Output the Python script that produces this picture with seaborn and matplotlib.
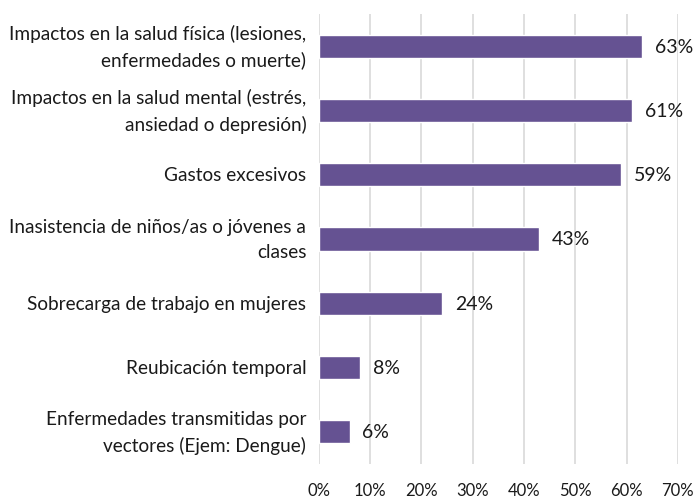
import matplotlib
matplotlib.use("Agg")
import matplotlib.pyplot as plt
import seaborn as sns
import pandas as pd
from matplotlib.ticker import FuncFormatter

# Data
categories = [
    "Impactos en la salud física (lesiones,\nenfermedades o muerte)",
    "Impactos en la salud mental (estrés,\nansiedad o depresión)",
    "Gastos excesivos",
    "Inasistencia de niños/as o jóvenes a\nclases",
    "Sobrecarga de trabajo en mujeres",
    "Reubicación temporal",
    "Enfermedades transmitidas por\nvectores (Ejem: Dengue)",
]
values = [0.63, 0.61, 0.59, 0.43, 0.24, 0.08, 0.06]

df = pd.DataFrame({"Impacto": categories, "Porcentaje": values})

sns.set_style("white")
plt.rcParams['font.family'] = ['Lato', 'DejaVu Sans']

fig = plt.figure(figsize=(6.96, 5.02), dpi=100)
ax = fig.add_axes([0.458, 0.074, 0.516, 0.896])

sns.barplot(data=df, y="Impacto", x="Porcentaje", color="#60489C",
            width=0.36, ax=ax, zorder=3)

ax.set_xlim(0, 0.70)
ax.set_xticks([i / 10 for i in range(8)])
ax.xaxis.set_major_formatter(FuncFormatter(lambda v, p: f"{v * 100:.0f}%"))
ax.grid(axis="x", color="#D9D9D9", linewidth=1.2, zorder=0)
ax.grid(axis="y", visible=False)
for s in ax.spines.values():
    s.set_visible(False)
ax.tick_params(axis="both", length=0, colors="#1A1A1A")
ax.tick_params(axis="x", pad=13, labelsize=12)
ax.tick_params(axis="y", pad=9, labelsize=13.7)
for lbl in ax.get_yticklabels():
    lbl.set_horizontalalignment("right")
    lbl.set_verticalalignment("center")
    lbl.set_multialignment("right")
    lbl.set_linespacing(1.6)
ax.set_xlabel("")
ax.set_ylabel("")

for i, v in enumerate(values):
    ax.text(v + 0.025, i, f"{v * 100:.0f}%", va="center", ha="left",
            fontsize=14, color="#1A1A1A")

fig.savefig("out.png", dpi=100)
